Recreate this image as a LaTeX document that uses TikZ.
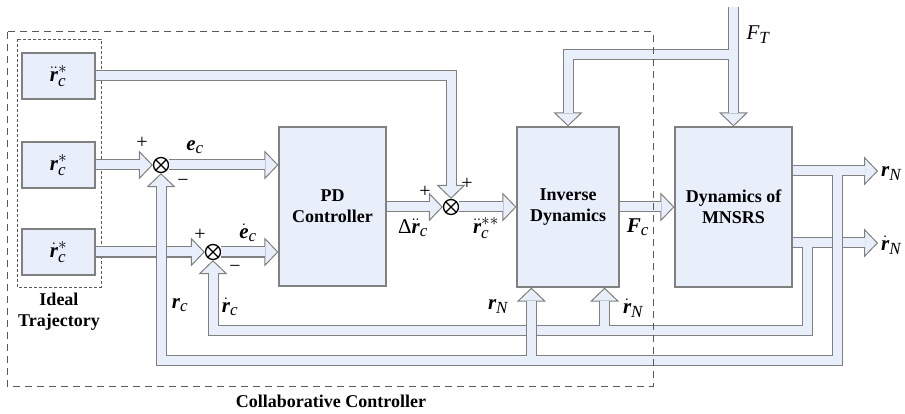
\documentclass[tikz,border=0pt]{standalone}
\usepackage{amsmath}
\usepackage{fontspec}
\setmainfont{Liberation Serif}
\usetikzlibrary{arrows.meta, positioning, calc}

\DeclareMathSizes{21}{21}{17}{14}

\definecolor{pipefill}{RGB}{232,239,250}
\definecolor{edgegray}{RGB}{128,128,128}

\newcommand{\blockfont}{\fontsize{18}{21}\selectfont\bfseries}
\newcommand{\labelfont}{\fontsize{21}{24}\selectfont}
\newcommand{\bi}[1]{\text{\bfseries\itshape #1}}
\newcommand{\ti}[1]{\text{\itshape #1}}

% forward paths and the velocity loop, drawn with the style given
\newcommand{\forwardpipes}[1]{%
  \draw[#1] (tra.east) -- (tra.east -| s2) -- (s2.north);
  \draw[#1] (trp.east) -- (s1.west);
  \draw[#1] (trv.east) -- (s3.west);
  \draw[#1] (s1.east) -- (s1.east -| pd.west);
  \draw[#1] (s3.east) -- (s3.east -| pd.west);
  \draw[#1] (pd.east |- s2) -- (s2.west);
  \draw[#1] (s2.east) -- (s2.east -| inv.west);
  \draw[#1] (inv.east) -- (mn.west);
  \draw[#1] (ftin) -- (mn.north);
  \draw[#1] (ftbr) -- (ftbr -| inv.north) -- (inv.north);
  \draw[#1] (mn.east |- vout) -- (vout);
  \draw[#1] (vtap) -- (vlow) -- (vlow -| s3) -- (s3.south);
  \draw[#1] (vlow -| invv) -- (invv);
}
% position loop, drawn over the others
\newcommand{\feedbackpipes}[1]{%
  \draw[#1] (mn.east |- rout) -- (rout);
  \draw[#1] (rtap) -- (rlow) -- (rlow -| s1) -- (s1.south);
  \draw[#1] (rlow -| invr) -- (invr);
}

\begin{document}
\begin{tikzpicture}[x=1pt, y=-1pt,
    box/.style={draw=edgegray, line width=1.2pt, fill=pipefill, align=center, font=\blockfont},
    sum/.style={circle, draw, line width=1.3pt, fill=white, minimum size=15pt, inner sep=0pt,
        path picture={\draw[line width=1.3pt]
            (path picture bounding box.north west) -- (path picture bounding box.south east)
            (path picture bounding box.north east) -- (path picture bounding box.south west);}},
    sign/.style={font=\fontsize{20}{20}\selectfont, inner sep=0pt},
    lbl/.style={font=\labelfont, inner sep=0pt},
    pipe/.style={line width=11pt, draw=edgegray,
        -{Triangle[length=14pt, width=29pt, line width=1pt, fill=pipefill]}},
    core/.style={line width=9pt, draw=pipefill, shorten >=13pt},
    frame/.style={draw=black!65, line width=1pt, dash pattern=on 7pt off 5pt}
]
\useasboundingbox (0,0) rectangle (905,414);

% Ideal trajectory
\node[box, minimum width=73pt, minimum height=46pt, font=\labelfont] (tra) at (58.5,76) {$\ddot{\bi{r}}_{\ti{c}}^{*}$};
\node[box, minimum width=73pt, minimum height=46pt, font=\labelfont] (trp) at (58.5,165) {$\bi{r}_{\ti{c}}^{*}$};
\node[box, minimum width=73pt, minimum height=46pt, font=\labelfont] (trv) at (58.5,252) {$\dot{\bi{r}}_{\ti{c}}^{*}$};
\draw[frame, dash pattern=on 3pt off 2pt, line width=0.8pt] (17,39) rectangle (101,287);
\node[font=\blockfont, align=center] (ideal) at (59,312) {Ideal\\Trajectory};

% Summing junctions
\node[sum] (s1) at (161,165) {};
\node[sum] (s3) at (213,252) {};
\node[sum] (s2) at (451,207) {};

% Blocks
\node[box, minimum width=107pt, minimum height=159pt] (pd) at (332.5,206.5) {PD\\Controller};
\node[box, minimum width=102pt, minimum height=160pt] (inv) at (568,207) {Inverse\\Dynamics};
\node[box, minimum width=117pt, minimum height=160pt] (mn) at (733.5,207) {Dynamics of\\MNSRS};

% Branch and end points
\coordinate (ftin) at (733.5,7);
\coordinate (ftbr) at (733.5,55);
\coordinate (rout) at (878,171);
\coordinate (vout) at (878,243);
\coordinate (rtap) at (837,171);
\coordinate (rlow) at (837,360);
\coordinate (vtap) at (807,243);
\coordinate (vlow) at (807,330);
\coordinate (invr) at ([xshift=15pt]inv.south west);
\coordinate (invv) at ([xshift=-15pt]inv.south east);

% Pipes: outline first, then the core, so that branches merge
\forwardpipes{pipe}
\forwardpipes{core}
\feedbackpipes{pipe}
\feedbackpipes{core}

% Signs at the junctions
\node[sign] (p1) at (142,143) {+};
\node[sign] (m1) at (183,183) {−};
\node[sign] (p3) at (200,235) {+};
\node[sign] (m3) at (235,269) {−};
\node[sign] (p2a) at (425,192) {+};
\node[sign] (p2b) at (467,184) {+};

% Signal labels
\node[lbl] (ec) at (195,147) {$\bi{e}_{\ti{c}}$};
\node[lbl] (ecd) at (248,233) {$\dot{\bi{e}}_{\ti{c}}$};
\node[lbl] (dacc) at (413,228) {Δ$\ddot{\bi{r}}_{\ti{c}}$};
\node[lbl] (acc) at (486,228) {$\ddot{\bi{r}}_{\ti{c}}^{**}$};
\node[lbl] (fc) at (638,227) {$\bi{F}_{\ti{c}}$};
\node[lbl] (ft) at (758,35) {$\ti{F}_{\ti{T}}$};
\node[lbl] (rc) at (180,305) {$\bi{r}_{\ti{c}}$};
\node[lbl] (rcd) at (230,307) {$\dot{\bi{r}}_{\ti{c}}$};
\node[lbl] (rn) at (498,307) {$\bi{r}_{\ti{N}}$};
\node[lbl] (rnd) at (633,308) {$\dot{\bi{r}}_{\ti{N}}$};
\node[lbl, anchor=west] (rnout) at (881,174) {$\bi{r}_{\ti{N}}$};
\node[lbl, anchor=west] (rndout) at (881,245) {$\dot{\bi{r}}_{\ti{N}}$};

% Controller frame
\draw[frame] (7,32) rectangle (653,386);
\node[font=\blockfont] (collab) at (331,401) {Collaborative Controller};

\end{tikzpicture}
\end{document}
